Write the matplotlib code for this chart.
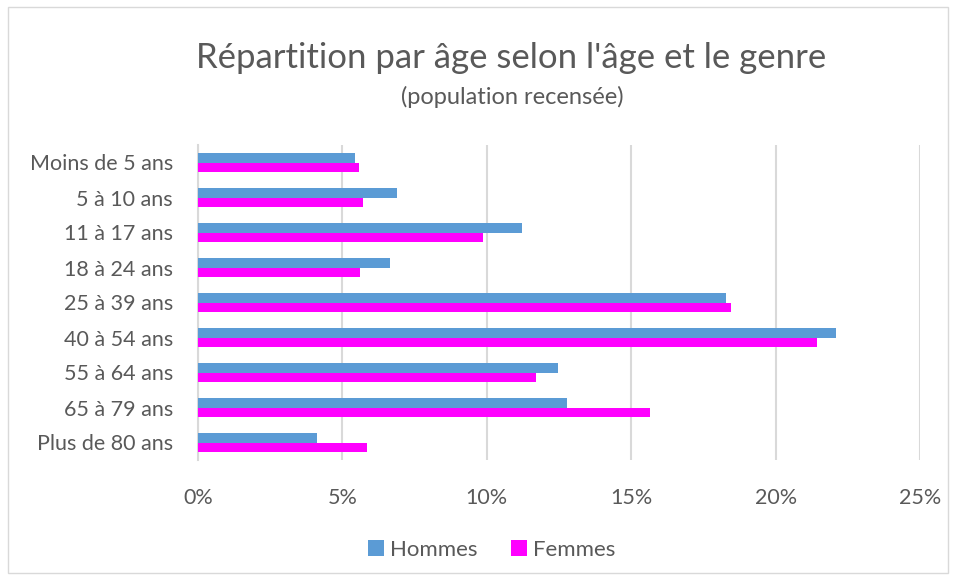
import numpy as np
import matplotlib.pyplot as plt
from matplotlib.ticker import FuncFormatter, MultipleLocator
from matplotlib.patches import Rectangle

plt.rcParams['font.family'] = ['Lato', 'DejaVu Sans']

categories = ['Moins de 5 ans', '5 à 10 ans', '11 à 17 ans', '18 à 24 ans', '25 à 39 ans',
              '40 à 54 ans', '55 à 64 ans', '65 à 79 ans', 'Plus de 80 ans']
hommes = [5.44, 6.88, 11.21, 6.66, 18.27, 22.10, 12.45, 12.79, 4.12]
femmes = [5.59, 5.71, 9.88, 5.62, 18.46, 21.45, 11.71, 15.66, 5.85]

col_h = '#5b9bd5'
col_f = '#ff00ff'
grey = '#595959'

fig = plt.figure(figsize=(9.57, 5.79), dpi=100)
ax = fig.add_axes([198/957, 1 - 460/579, (920 - 198)/957, (460 - 145)/579])

# chart border
fig.patches.append(Rectangle((8/957, 6/579), 940/957, 566/579, transform=fig.transFigure,
                             fill=False, edgecolor='#d9d9d9', lw=1))

y = np.arange(len(categories))
h = 0.28
ax.barh(y - h/2, hommes, height=h, color=col_h, label='Hommes', zorder=3)
ax.barh(y + h/2, femmes, height=h, color=col_f, label='Femmes', zorder=3)

ax.set_ylim(len(categories) - 0.5, -0.5)
ax.set_xlim(0, 25)
ax.set_yticks(y)
ax.set_yticklabels(categories)
ax.xaxis.set_major_locator(MultipleLocator(5))
ax.xaxis.set_major_formatter(FuncFormatter(lambda v, p: f'{v:.0f}%'))
ax.grid(axis='x', color='#d9d9d9', lw=1.5, zorder=0)
for s in ['top', 'right', 'bottom']:
    ax.spines[s].set_visible(False)
ax.spines['left'].set_color('#d9d9d9')
ax.spines['left'].set_linewidth(1.5)
ax.tick_params(axis='both', length=0, labelsize=15.5, labelcolor=grey)
ax.tick_params(axis='x', pad=20)
ax.tick_params(axis='y', pad=18)

fig.text(511/957, 1 - 58/579, "Répartition par âge selon l'âge et le genre", ha='center', va='center',
         fontsize=25, color=grey)
fig.text(512/957, 1 - 97/579, '(population recensée)', ha='center', va='center',
         fontsize=17, color=grey)

leg = fig.legend(loc='center', bbox_to_anchor=(492/957, 1 - 550/579), ncol=2, frameon=False,
                 fontsize=16, handlelength=0.7, handleheight=0.7, handletextpad=0.3, columnspacing=1.5)
for t in leg.get_texts():
    t.set_color(grey)

fig.savefig('out.png', dpi=100)
